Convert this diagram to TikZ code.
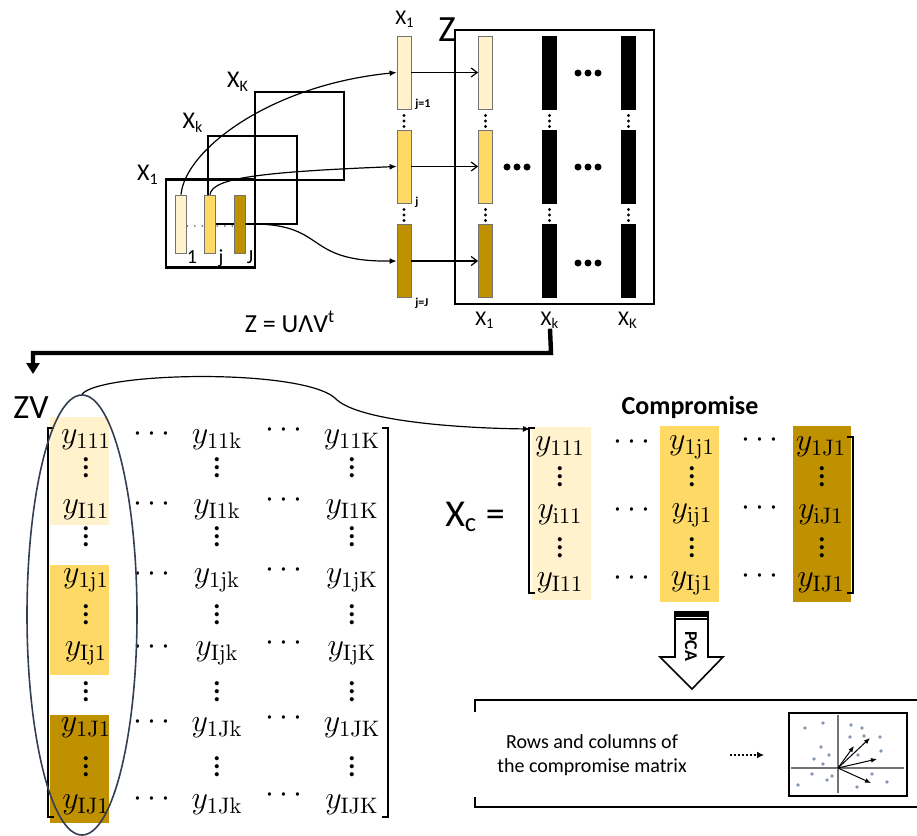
\RequirePackage{fix-cm}
\documentclass[tikz,border=0pt]{standalone}
\usepackage[no-math]{fontspec}
\setmainfont{Carlito}
\usetikzlibrary{arrows.meta,shapes.geometric}
\definecolor{lightCol}{HTML}{FFF2CC}
\definecolor{midCol}  {HTML}{FFD966}
\definecolor{darkCol} {HTML}{BF9000}
\definecolor{ovalGray}{HTML}{333F50}
\definecolor{scoreDot}{HTML}{8497B0}
\newcommand{\tightvdots}{\vbox{\baselineskip4pt\lineskiplimit0pt\hbox{.}\hbox{.}\hbox{.}}}
\tikzset{
  lbl/.style={font=\fontsize{12}{14}\selectfont,inner sep=0pt},
  idxlbl/.style={font=\bfseries\fontsize{6}{7}\selectfont,inner sep=0pt,anchor=west},
  barlbl/.style={font=\fontsize{10}{11}\selectfont,inner sep=0pt},
  blk/.style={draw=black,line width=1.1pt,minimum width=44.5pt,minimum height=44pt,inner sep=0pt},
  bar/.style={draw=black!55,line width=0.4pt,inner sep=0pt,minimum width=5.5pt,minimum height=29pt},
  vbar/.style={draw=black!55,line width=0.4pt,inner sep=0pt,minimum width=7pt,minimum height=36.5pt},
  entry/.style={font=\fontsize{16}{19}\selectfont,inner sep=0pt},
  vdot/.style={font=\fontsize{17}{19}\selectfont,inner sep=0pt},
  curvearrow/.style={-{Latex[length=3.5pt,width=3pt]},line width=0.6pt},
  feed/.style={-{Straight Barb[length=3pt,width=4.5pt]},line width=0.6pt},
  svdarrow/.style={-{Triangle[length=5.5pt,width=6.5pt]},line width=2.2pt},
  bracket/.style={line width=0.9pt},
}

\begin{document}
\begin{tikzpicture}[x=0.5pt,y=-0.5pt]
\useasboundingbox (0,0) rectangle (917,836);

% stacked data tables
\node[blk] (tK) at (299.5,136) {};
\node[blk] (tk) at (252.5,180) {};
\node[blk] (t1) at (210.5,223.5) {};
\node[lbl] (labtK) at (238,82)  {X\textsubscript{K}};
\node[lbl] (labtk) at (193,123) {X\textsubscript{k}};
\node[lbl] (labt1) at (148,175) {X\textsubscript{1}};

\node[bar,fill=lightCol] (b1) at (181,224)   {};
\node[bar,fill=midCol]   (bj) at (210,224)   {};
\node[bar,fill=darkCol]  (bJ) at (239.5,224) {};
\node[text=black!60,inner sep=0pt,font=\fontsize{8}{8}\selectfont] (g1) at (195,227) {$\cdots$};
\node[text=black!60,inner sep=0pt,font=\fontsize{8}{8}\selectfont] (g2) at (225,227) {$\cdots$};
\node[barlbl] (n1) at (192,257) {1};
\node[barlbl] (nj) at (221,258) {j};
\node[barlbl] (nJ) at (250,257) {J};

% extracted columns
\node[vbar,fill=lightCol] (m1) at (404,72.5)  {};
\node[vbar,fill=midCol]   (m2) at (404,166.5) {};
\node[vbar,fill=darkCol]  (m3) at (404,261)   {};
\node[lbl,font=\fontsize{10.5}{12}\selectfont] (labm) at (405,19) {X\textsubscript{1}};
\node[idxlbl] (i1) at (415,104) {j=1};
\node[idxlbl] (ij) at (415,202) {j};
\node[idxlbl] (iJ) at (415,303) {j=J};

\draw[curvearrow] (b1.north) .. controls (185,150) and (270,85) .. (m1.west);
\draw[curvearrow] (bj.north) .. controls (212,178) and (260,172) .. (m2.west);
\draw[curvearrow] (bJ.east) .. controls (330,222) and (300,262) .. (m3.west);

% matrix Z
\node[draw,line width=1.2pt,minimum width=99.5pt,minimum height=137pt,inner sep=0pt] (zbox) at (554.5,167) {};
\node[inner sep=0pt,font=\fontsize{18.5}{20}\selectfont] (zlab) at (447,30) {Z};
\foreach \r/\yy/\c in {1/72.5/lightCol,2/166.5/midCol,3/261/darkCol}{
  \node[vbar,fill=\c] (z1\r) at (485.5,\yy) {};
  \node[vbar,fill=black,draw=black] (zk\r) at (549.5,\yy) {};
  \node[vbar,fill=black,draw=black] (zK\r) at (628.5,\yy) {};
  \draw[feed] (m\r.east) -- (z1\r.west);
}
\foreach \xx in {404,485.5,549.5,628.5}
  \foreach \yy in {121,215}
    \foreach \d in {-5.5,0,5.5}
      \fill (\xx,\yy+\d) circle (0.8pt);
\foreach \xx/\yy in {588/73,517/167,588/167,588/263}
  \foreach \d in {-10,0,10}
    \fill (\xx+\d,\yy) circle (1.75pt);
\node[lbl,font=\fontsize{10.5}{12}\selectfont] (lab1) at (485,320) {X\textsubscript{1}};
\node[lbl,font=\fontsize{10.5}{12}\selectfont] (labk) at (550,320) {X\textsubscript{k}};
\node[lbl,font=\fontsize{10.5}{12}\selectfont] (labK) at (628,320) {X\textsubscript{K}};

% decomposition
\coordinate (bend) at (551,353);
\coordinate (zvin) at (33,374);
\draw[svdarrow] (labk.south) -- (bend) -| (zvin);
\node[inner sep=0pt,font=\fontsize{13}{15}\selectfont] (svd) at (290,322) {Z = UΛV\textsuperscript{t}};

% matrix ZV
\node[inner sep=0pt,font=\fontsize{17}{19}\selectfont] (zvlab) at (31,408) {ZV};
\fill[lightCol] (50,417) rectangle (109,525);
\fill[midCol]   (50,565) rectangle (109,675);
\fill[darkCol]  (50,715) rectangle (109,823);
\draw[bracket] (54,428) -- (48,428) -- (48,817) -- (54,817);
\draw[bracket] (382,428) -- (388,428) -- (388,817) -- (382,817);
\foreach \yy/\a/\b/\c in {440/111/11k/11K,510/I11/I1k/I1K,580/1j1/1jk/1jK,653/Ij1/Ijk/IjK,728/1J1/1Jk/1JK,805/IJ1/1Jk/IJK}{
  \node[entry] (zv\yy a) at (86,\yy)  {$y_{\mathrm{\a}}$};
  \node[entry,anchor=base] (zv\yy d) at (152,\yy+1) {$\cdots$};
  \node[entry] (zv\yy b) at (217,\yy) {$y_{\mathrm{\b}}$};
  \node[entry,anchor=base] (zv\yy e) at (284,\yy-3) {$\cdots$};
  \node[entry] (zv\yy c) at (352,\yy) {$y_{\mathrm{\c}}$};
}
\foreach \yy in {468,537,615,692,767}
  \foreach \xx in {86,217,352}
    \node[vdot] (zvv\xx\yy) at (\xx,\yy) {\tightvdots};
\node[draw=ovalGray,line width=0.8pt,ellipse,minimum width=55pt,minimum height=220pt,inner sep=0pt] (oval) at (82,615) {};

% compromise matrix
\node[inner sep=0pt,font=\bfseries\fontsize{13}{15}\selectfont] (comptitle) at (690,407) {Compromise};
\node[inner sep=0pt,font=\fontsize{19}{21}\selectfont] (xclab) at (475,517) {X\textsubscript{c} =};
\fill[lightCol] (532,427) rectangle (591,600);
\fill[midCol]   (660,426) rectangle (719,602);
\fill[darkCol]  (793,426) rectangle (851,602);
\draw[bracket] (535,428) -- (529,428) -- (529,593) -- (535,593);
\draw[bracket] (847,437) -- (853,437) -- (853,593) -- (847,593);
\foreach \yy/\a/\b/\c in {447/111/1j1/1J1,515/i11/ij1/iJ1,583/I11/Ij1/IJ1}{
  \node[entry] (xc\yy a) at (560,\yy) {$y_{\mathrm{\a}}$};
  \node[entry,anchor=base] (xc\yy d) at (632,\yy+2) {$\cdots$};
  \node[entry] (xc\yy b) at (692,\yy) {$y_{\mathrm{\b}}$};
  \node[entry,anchor=base] (xc\yy e) at (760,\yy) {$\cdots$};
  \node[entry] (xc\yy c) at (821,\yy) {$y_{\mathrm{\c}}$};
}
\foreach \yy in {477,548}
  \foreach \xx in {560,692,822}
    \node[vdot] (xcv\xx\yy) at (\xx,\yy) {\tightvdots};

\coordinate (xcin) at (530,429);
\draw[curvearrow] (oval.north) .. controls (100,372) and (300,368) .. (335,398)
  .. controls (355,420) and (450,428) .. (xcin);

% PCA step
\draw[line width=0.8pt,fill=white] (675,612) -- (708,612) -- (708,657) -- (723,657)
  -- (692,689) -- (660,657) -- (675,657) -- cycle;
\fill (675,611) rectangle (708,616.5);
\draw[line width=0.6pt] (675,619) -- (708,619);
\node[inner sep=0pt,rotate=-90,font=\bfseries\fontsize{9}{10}\selectfont] (pca) at (691,646) {PCA};

% results panel
\draw[line width=0.9pt] (475,712) -- (475,700) -- (917,700);
\draw[line width=0.9pt] (475,797) -- (475,807) -- (917,807);
\node[align=center,font=\fontsize{10}{12}\selectfont] (rowstxt) at (592,755)
  {Rows and columns of\\the compromise matrix};
\coordinate (dotA) at (730,755);
\coordinate (dotB) at (764,755);
\draw[line width=1pt,densely dotted,-{Latex[length=3.5pt,width=3.5pt]}] (dotA) -- (dotB);

\node[draw,line width=1.4pt,minimum width=59pt,minimum height=41.5pt,inner sep=0pt] (plotbox) at (848,754.5) {};
\coordinate (orig) at (838,768);
\draw[black!55,line width=0.6pt] (838,715) -- (838,793);
\draw[black!55,line width=0.6pt] (791,768) -- (904,768);
\foreach \px/\py in {805/728,823/723,851/725,862/728,850/737,864/736,880/737,821/747,829/755,
  814/759,823/764,858/755,881/751,812/774,832/776,827/780,872/774,887/782,798/785,857/787}
  \fill[scoreDot] (\px,\py) circle (0.9pt);
\foreach \px/\py in {854/746,870/738,877/759,871/783}
  \draw[line width=0.5pt,-{Latex[length=3pt,width=2.4pt]}] (orig) -- (\px,\py);

\end{tikzpicture}
\end{document}
